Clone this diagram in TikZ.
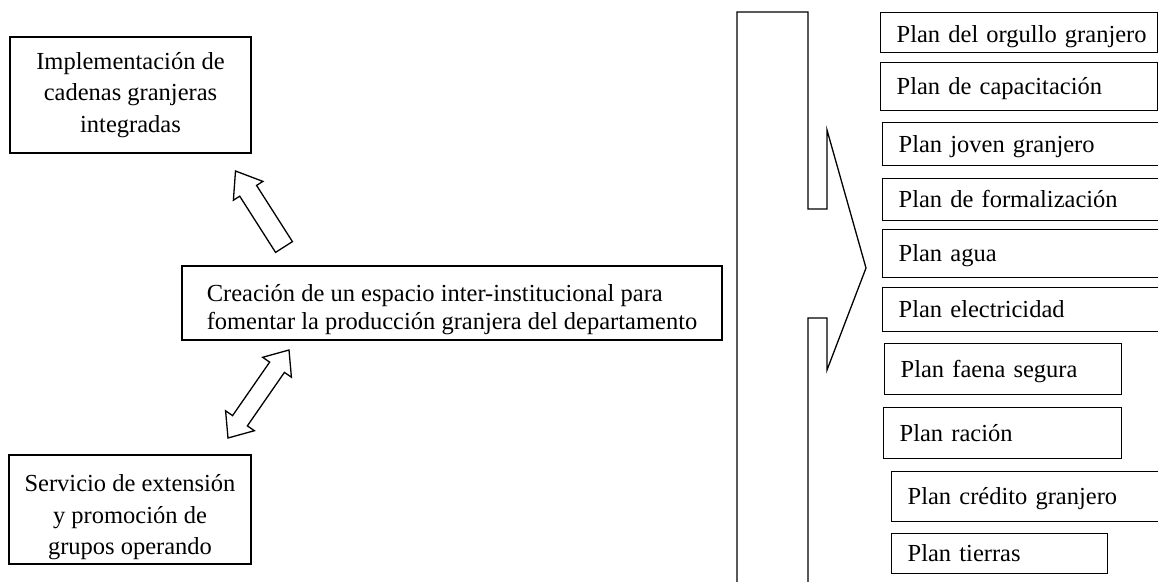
\documentclass[tikz,border=0pt]{standalone}
\usepackage{fontspec}
\setmainfont{Liberation Serif}
\usetikzlibrary{calc}
\begin{document}
\begin{tikzpicture}[x=1pt,y=-1pt,line width=1.3pt,
  sidebox/.style={draw, rectangle, inner sep=0pt, align=center, font=\fontsize{24.5}{31.7}\selectfont},
  mainbox/.style={draw, rectangle, inner sep=0pt, align=left, font=\fontsize{24.5}{28.5}\selectfont},
  planbox/.style={draw, rectangle, anchor=north west, inner xsep=16pt, inner ysep=0pt, align=left,
    font=\fontsize{24.5}{28}\selectfont, text height=20pt, text depth=4pt},
  blockarrow/.style={draw, line join=miter, fill=white},
  bracket/.style={draw, line join=miter}]
\clip (0,0) rectangle (1158,581);

% left boxes
\node[sidebox, minimum width=241pt, minimum height=116pt] (impl) at (130.5,95)
  {Implementación de\\cadenas granjeras\\integradas};
\node[sidebox, minimum width=242pt, minimum height=109pt] (serv) at (130,509.5)
  {\rule{0pt}{32.5pt}Servicio de extensión\\y promoción de\\grupos operando};
% central box
\node[mainbox, minimum width=540pt, minimum height=74pt] (crea) at (452,303)
  {\rule{0pt}{30pt}Creación de un espacio inter-institucional para\\fomentar la producción granjera del departamento};

% single block arrow (towards implementation box)
\coordinate (ua-t) at (284,247);
\coordinate (ua-h) at (235.5,171);
\coordinate (ua-b) at ($(ua-h)!23.5pt!(ua-t)$);
\draw[blockarrow] ($(ua-t)!10pt!90:(ua-h)$) -- ($(ua-b)!10pt!90:(ua-h)$) -- ($(ua-b)!17.5pt!90:(ua-h)$)
  -- (ua-h) -- ($(ua-b)!17.5pt!-90:(ua-h)$) -- ($(ua-b)!10pt!-90:(ua-h)$) -- ($(ua-t)!10pt!-90:(ua-h)$) -- cycle;

% double block arrow (between service box and central box)
\coordinate (da-p1) at (289,350);
\coordinate (da-p2) at (228,438);
\coordinate (da-b1) at ($(da-p1)!21pt!(da-p2)$);
\coordinate (da-b2) at ($(da-p2)!21pt!(da-p1)$);
\draw[blockarrow] (da-p1) -- ($(da-b1)!17.5pt!90:(da-p1)$) -- ($(da-b1)!9pt!90:(da-p1)$)
  -- ($(da-b2)!9pt!-90:(da-p2)$) -- ($(da-b2)!17.5pt!-90:(da-p2)$) -- (da-p2)
  -- ($(da-b2)!17.5pt!90:(da-p2)$) -- ($(da-b2)!9pt!90:(da-p2)$)
  -- ($(da-b1)!9pt!-90:(da-p1)$) -- ($(da-b1)!17.5pt!-90:(da-p1)$) -- cycle;

% big bracket shape
\draw[bracket] (737,600) -- (737,12) -- (808,12) -- (808,209) -- (827,209) -- (827,130)
  -- (866,268) -- (827,370) -- (827,318) -- (808,318) -- (808,600);

% plan boxes
\node[planbox, minimum width=277pt, minimum height=40pt, text width=245pt, text height=22pt, text depth=2pt] (p1) at (880,12) {\mbox{Plan del orgullo granjero}};
\node[planbox, minimum width=277pt, minimum height=48pt, text width=245pt] (p2) at (880,62) {Plan de capacitación};
\node[planbox, minimum width=293pt, minimum height=43pt, text width=261pt] (p3) at (882,122) {Plan joven granjero};
\node[planbox, minimum width=293pt, minimum height=42pt, text width=261pt] (p4) at (882,178) {Plan de formalización};
\node[planbox, minimum width=293pt, minimum height=48pt, text width=261pt] (p5) at (882,229) {Plan agua};
\node[planbox, minimum width=293pt, minimum height=44pt, text width=261pt] (p6) at (882,287) {Plan electricidad};
\node[planbox, minimum width=237pt, minimum height=51pt, text width=205pt] (p7) at (884,343) {Plan faena segura};
\node[planbox, minimum width=238pt, minimum height=51pt, text width=206pt] (p8) at (883,407) {Plan ración};
\node[planbox, minimum width=284pt, minimum height=50pt, text width=252pt] (p9) at (891,471) {Plan crédito granjero};
\node[planbox, minimum width=216pt, minimum height=40pt, text width=184pt] (p10) at (891,533) {Plan tierras};
\end{tikzpicture}
\end{document}
